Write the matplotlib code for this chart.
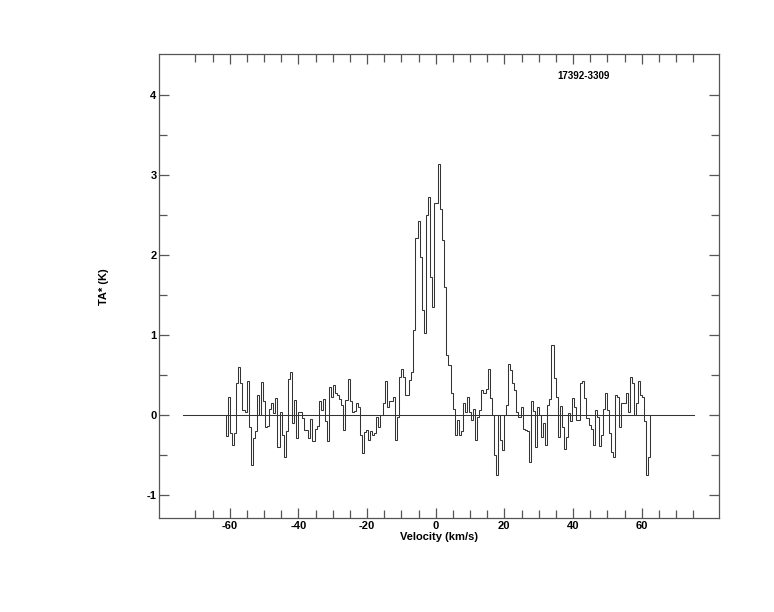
"""
Spectrum plot: 17392-3309, TA* vs velocity (step histogram).
"""

import numpy as np
import matplotlib

matplotlib.use('Agg')
import matplotlib.pyplot as plt
from matplotlib.ticker import FixedLocator

# data
source_name = "17392-3309"
v_start = -61.08      # left edge of first channel (km/s)
chan_width = 0.6      # km/s
baseline_range = [-73.6, 75.2]

ta_star = [
    -0.26, 0.22, -0.23, -0.37, -0.23, 0.40, 0.60, 0.40, 0.06, 0.04,
    0.42, -0.15, -0.62, -0.29, -0.20, 0.25, 0.00, 0.41, 0.17, -0.15,
    -0.14, 0.07, 0.15, 0.02, 0.21, -0.40, 0.04, -0.25, -0.52, -0.20,
    0.45, 0.54, -0.10, 0.19, -0.29, 0.04, 0.04, -0.04, -0.19, -0.19,
    -0.29, -0.05, -0.32, -0.17, -0.14, 0.17, 0.06, 0.20, -0.07, -0.32,
    0.35, 0.23, 0.37, 0.27, 0.25, 0.20, 0.12, -0.19, 0.19, 0.45,
    0.17, 0.04, 0.05, 0.15, 0.10, -0.25, -0.47, -0.21, -0.19, -0.31,
    -0.20, -0.25, -0.22, -0.02, -0.15, 0.00, 0.15, 0.42, 0.10, 0.17,
    0.17, 0.23, -0.31, -0.02, 0.48, 0.58, 0.48, 0.25, 0.25, 0.44,
    0.54, 1.06, 2.21, 2.42, 1.98, 1.31, 1.02, 2.50, 2.73, 1.73,
    1.35, 2.65, 2.65, 3.14, 2.58, 2.19, 1.60, 0.75, 0.62, 0.27,
    0.08, -0.25, -0.06, -0.25, -0.20, 0.15, 0.04, 0.22, 0.04, -0.06,
    0.08, -0.31, -0.03, 0.06, 0.31, 0.28, 0.33, 0.57, 0.21, 0.00,
    -0.50, -0.75, 0.00, -0.31, -0.44, 0.00, 0.12, 0.64, 0.56, 0.40,
    0.31, 0.04, -0.02, 0.10, -0.17, -0.19, -0.20, -0.58, 0.17, 0.05,
    -0.40, 0.10, 0.00, -0.27, -0.10, -0.37, 0.12, 0.20, 0.87, 0.46,
    0.23, -0.27, 0.11, -0.15, -0.42, -0.27, 0.02, -0.08, 0.21, 0.10,
    -0.06, -0.06, 0.40, 0.43, 0.21, -0.04, -0.12, -0.17, -0.37, 0.06,
    -0.02, -0.39, -0.25, 0.08, 0.27, 0.06, -0.23, -0.46, -0.52, 0.25,
    0.23, -0.15, 0.15, 0.15, 0.27, 0.04, 0.48, 0.40, 0.00, 0.15,
    0.42, 0.25, 0.23, -0.08, -0.75, -0.52,
]

x_major = [-60, -40, -20, 0, 20, 40, 60]
x_minor = [-70, -65, -55, -50, -45, -35, -30, -25, -15, -10, -5,
           5, 10, 15, 25, 30, 35, 45, 50, 55, 65, 70, 75]
y_major = [-1, 0, 1, 2, 3, 4]
y_minor = [-0.5, 0.5, 1.5, 2.5, 3.5]

plt.rcParams['font.family'] = ['Liberation Sans', 'DejaVu Sans']
plt.rcParams['font.weight'] = 'bold'
plt.rcParams['axes.unicode_minus'] = False


def spectrum_fig():
    fig = plt.figure(figsize=(7.74, 6.12), dpi=100)
    ax = fig.add_axes([0.2058, 0.1531, 0.7235, 0.7582])

    edges = v_start + chan_width * np.arange(len(ta_star) + 1)
    ax.stairs(ta_star, edges, color='#333333', lw=0.75)
    ax.plot(baseline_range, [0, 0], color='#333333', lw=0.75)

    ax.set_xlim(-80.5, 82.6)
    ax.set_ylim(-1.29, 4.51)

    ax.xaxis.set_major_locator(FixedLocator(x_major))
    ax.xaxis.set_minor_locator(FixedLocator(x_minor))
    ax.yaxis.set_major_locator(FixedLocator(y_major))
    ax.yaxis.set_minor_locator(FixedLocator(y_minor))
    ax.tick_params(which='both', direction='in', top=True, right=True,
                   color='#555555', width=0.9, labelsize=8, pad=2)
    ax.tick_params(which='major', length=7.5)
    ax.tick_params(which='minor', length=5.5)
    for lab in ax.get_xticklabels() + ax.get_yticklabels():
        lab.set_fontweight('bold')
    for sp in ax.spines.values():
        sp.set_color('#555555')
        sp.set_linewidth(0.9)

    ax.set_xlabel("Velocity (km/s)", fontsize=8, fontweight='bold', labelpad=1)
    ax.set_ylabel("TA* (K)", fontsize=8, fontweight='bold')
    ax.yaxis.set_label_coords(-0.089, 0.5)

    ax.text(0.758, 0.953, source_name, transform=ax.transAxes,
            ha='center', va='center', fontsize=7, fontweight='bold')
    return fig


if __name__ == "__main__":
    fig = spectrum_fig()
    fig.savefig("out.png", dpi=100)
